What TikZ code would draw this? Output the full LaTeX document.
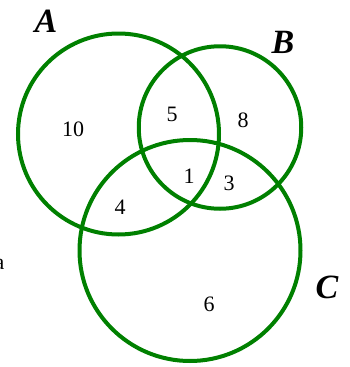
\documentclass[tikz,border=0pt]{standalone}
\usepackage{fontspec}
\setmainfont{Liberation Serif}
\begin{document}
\begin{tikzpicture}[x=1pt,y=-1pt,
  setc/.style={draw={rgb,255:red,0;green,128;blue,0}, line width=4pt, circle, inner sep=0pt},
  num/.style={font=\fontsize{22}{25}\selectfont, inner sep=0pt},
  lab/.style={font=\fontsize{34}{37}\selectfont\bfseries\itshape, inner sep=0pt}]
\useasboundingbox (0,0) rectangle (349,367);
\node[setc, minimum size=201pt] (cA) at (118.5,134) {};
\node[setc, minimum size=162.5pt] (cB) at (220,127.5) {};
\node[setc, minimum size=221pt] (cC) at (190,250.5) {};
\node[lab] (lA) at (46,21) {A};
\node[lab] (lB) at (283,42) {B};
\node[lab] (lC) at (327,287) {C};
\node[num] (n10) at (73,129) {10};
\node[num] (n5) at (172,114) {5};
\node[num] (n8) at (243,120) {8};
\node[num] (n1) at (189,176) {1};
\node[num] (n3) at (229,183) {3};
\node[num] (n4) at (120,207) {4};
\node[num] (n6) at (209,304) {6};
\node[num, anchor=base east] (na) at (4.5,269) {a};
\end{tikzpicture}
\end{document}
